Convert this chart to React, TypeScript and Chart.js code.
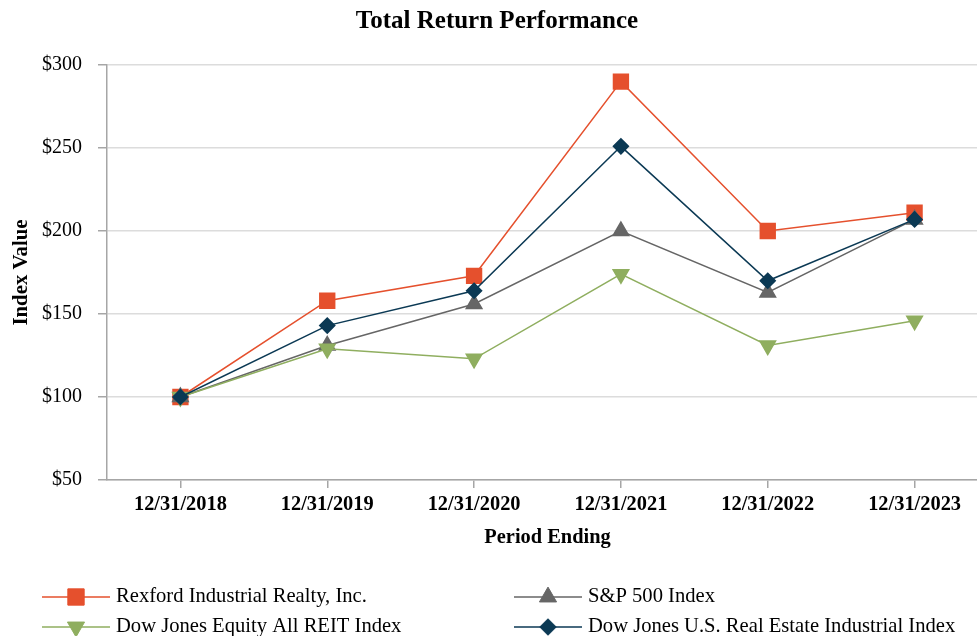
import React, { useEffect, useRef } from "react";
import { Chart, registerables } from "chart.js";
import { drawPoint } from "chart.js/helpers";

Chart.register(...registerables);

const categories = ["12/31/2018", "12/31/2019", "12/31/2020", "12/31/2021", "12/31/2022", "12/31/2023"];
const rexford = [100, 158, 173, 290, 200, 211];
const sp500 = [100, 131, 156, 200, 163, 207];
const djReit = [100, 129, 123, 174, 131, 146];
const djIndustrial = [100, 143, 164, 251, 170, 207];
const yTicks = [50, 100, 150, 200, 250, 300];

const FONT = "'Liberation Serif', 'Times New Roman', serif";

const legendPlugin = {
  id: "customLegend",
  afterDraw(chart: any) {
    const ctx = chart.ctx;
    const cols = [42, 514];
    const rows = [597, 627];
    const order = [0, 1, 2, 3];
    ctx.save();
    order.forEach((di, i) => {
      const ds = chart.data.datasets[di];
      const x0 = cols[i % 2];
      const y = rows[Math.floor(i / 2)];
      const len = 68;
      ctx.strokeStyle = ds.borderColor;
      ctx.lineWidth = 1.5;
      ctx.beginPath();
      ctx.moveTo(x0, y);
      ctx.lineTo(x0 + len, y);
      ctx.stroke();
      ctx.fillStyle = ds.pointBackgroundColor;
      ctx.strokeStyle = ds.pointBackgroundColor;
      ctx.lineWidth = 1;
      drawPoint(ctx, { pointStyle: ds.pointStyle, rotation: ds.pointRotation || 0, radius: ds.pointRadius * 1.1, borderWidth: 1 }, x0 + len / 2, y);
      ctx.fillStyle = "#000";
      ctx.font = `20.6px ${FONT}`;
      ctx.textAlign = "left";
      ctx.textBaseline = "middle";
      ctx.fillText(ds.label, x0 + len + 6, y);
    });
    ctx.restore();
  },
};

export default function App() {
  const ref = useRef<HTMLCanvasElement>(null);
  useEffect(() => {
    if (!ref.current) return;
    const chart = new Chart(ref.current, {
      type: "line",
      data: {
        labels: categories,
        datasets: [
          {
            label: "Rexford Industrial Realty, Inc.",
            data: rexford,
            borderColor: "#E5502D",
            backgroundColor: "#E5502D",
            pointBackgroundColor: "#E5502D",
            pointBorderColor: "#E5502D",
            pointStyle: "rect",
            pointRadius: 10.5,
            borderWidth: 1.5,
            order: 3,
          },
          {
            label: "S&P 500 Index",
            data: sp500,
            borderColor: "#666666",
            backgroundColor: "#666666",
            pointBackgroundColor: "#666666",
            pointBorderColor: "#666666",
            pointStyle: "triangle",
            pointRadius: 9,
            borderWidth: 1.5,
            order: 2,
          },
          {
            label: "Dow Jones Equity All REIT Index",
            data: djReit,
            borderColor: "#8FAE5F",
            backgroundColor: "#8FAE5F",
            pointBackgroundColor: "#8FAE5F",
            pointBorderColor: "#8FAE5F",
            pointStyle: "triangle",
            pointRotation: 180,
            pointRadius: 9,
            borderWidth: 1.5,
            order: 1,
          },
          {
            label: "Dow Jones U.S. Real Estate Industrial Index",
            data: djIndustrial,
            borderColor: "#0B3954",
            backgroundColor: "#0B3954",
            pointBackgroundColor: "#0B3954",
            pointBorderColor: "#0B3954",
            pointStyle: "rectRot",
            pointRadius: 7.5,
            borderWidth: 1.5,
            order: 0,
          },
        ] as any,
      },
      options: {
        responsive: false,
        animation: false,
        layout: { padding: { left: 0, right: 6, top: 0, bottom: 86 } },
        plugins: {
          legend: { display: false },
          tooltip: { enabled: false },
          title: {
            display: true,
            text: "Total Return Performance",
            color: "#000",
            font: { family: FONT, size: 25, weight: "bold" },
            padding: { top: 7, bottom: 28 },
          },
        },
        scales: {
          x: {
            offset: true,
            grid: {
              display: true,
              drawOnChartArea: false,
              drawTicks: true,
              tickLength: 8,
              color: "#a6a6a6",
              tickColor: "#a6a6a6",
              lineWidth: 1.5,
            },
            border: { display: true, color: "#a6a6a6", width: 1.5 },
            ticks: {
              color: "#000",
              padding: 4,
              maxRotation: 0,
              autoSkip: false,
              font: { family: FONT, size: 20.4, weight: "bold" },
            },
            title: {
              display: true,
              text: "Period Ending",
              color: "#000",
              font: { family: FONT, size: 20.4, weight: "bold" },
              padding: { top: 0, bottom: 0 },
            },
            afterFit: (scale: any) => {
              scale.height = 70;
            },
          },
          y: {
            min: 50,
            max: 300,
            afterBuildTicks: (scale: any) => {
              scale.ticks = yTicks.map((v) => ({ value: v }));
            },
            grid: {
              color: "#dcdcdc",
              lineWidth: 1.5,
              tickColor: "#a6a6a6",
              tickLength: 9,
            },
            border: { display: true, color: "#a6a6a6", width: 1.5 },
            ticks: {
              color: "#000",
              padding: 16,
              font: { family: FONT, size: 20 },
              callback: (v: any) => `$${v}`,
            },
            title: {
              display: true,
              text: "Index Value",
              color: "#000",
              font: { family: FONT, size: 20.8, weight: "bold" },
              padding: { top: 9, bottom: 0 },
            },
            afterFit: (scale: any) => {
              scale.width = 107;
            },
          },
        },
      },
      plugins: [legendPlugin],
    });
    return () => chart.destroy();
  }, []);
  return (
    <div style={{ position: "fixed", left: 0, top: 0, width: 977, height: 636, overflow: "hidden", background: "#fff" }}>
      <canvas ref={ref} width={1000} height={636} style={{ display: "block" }} />
    </div>
  );
}
